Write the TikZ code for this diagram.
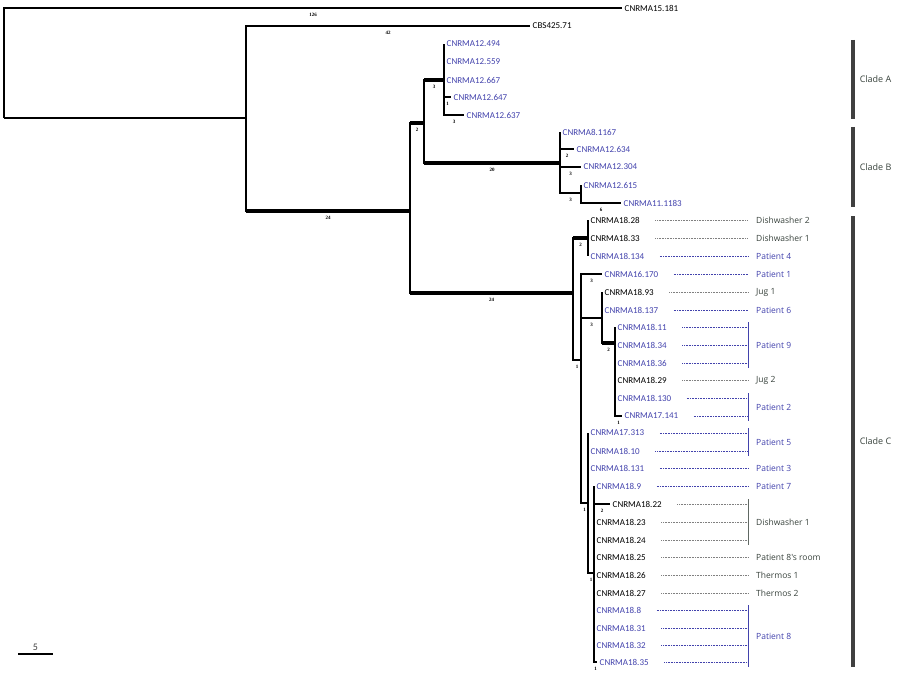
\documentclass[tikz,border=0pt]{standalone}
\usepackage{fontspec}
\setmainfont{Carlito}
\newfontfamily\tagfont{Open Sans}
\newfontfamily\numfont{Liberation Serif}
\usetikzlibrary{calc}
\definecolor{isoblue}{RGB}{66,66,172}
\definecolor{envgray}{RGB}{56,66,60}
\tikzstyle{branch}=[line width=1.5pt,black]
\tikzstyle{heavy}=[line width=4.5pt,black]
\tikzstyle{leaf}=[anchor=west,inner xsep=2.5pt,inner ysep=0pt,text depth=0pt,font=\fontsize{9}{10}\selectfont]
\tikzstyle{pat}=[leaf,text=isoblue]
\tikzstyle{env}=[leaf,text=black]
\tikzstyle{len}=[below=3pt,inner sep=1pt,pos=0.75,font=\numfont\bfseries\fontsize{5}{5}\selectfont]
\tikzstyle{patdots}=[isoblue,line width=0.6pt,dash pattern=on 0.8pt off 0.8pt]
\tikzstyle{envdots}=[gray,line width=0.6pt,dash pattern=on 0.8pt off 0.8pt]
\tikzstyle{patbrk}=[isoblue,line width=0.9pt]
\tikzstyle{envbrk}=[envgray!80,line width=0.9pt]
\tikzstyle{tag}=[anchor=west,inner sep=0pt,font=\tagfont\fontsize{8.5}{10}\selectfont]
\tikzstyle{pattag}=[tag,text=isoblue]
\tikzstyle{envtag}=[tag,text=envgray]
\tikzstyle{cladebar}=[line width=3.5pt,black!75]
\tikzstyle{clade}=[anchor=west,xshift=5pt,inner sep=0pt,text=envgray,font=\tagfont\fontsize{9}{10}\selectfont]

\begin{document}
\begin{tikzpicture}[x=1pt,y=-1pt]
  \useasboundingbox (0,0) rectangle (900,674);
  % inner nodes of the tree
  \coordinate (root) at (4,118);
  \coordinate (nOut) at (246,118);
  \coordinate (nIn)  at (410,211);
  \coordinate (nAB)  at (424,123);
  \coordinate (nA)   at (444,80);
  \coordinate (nB)   at (560,163);
  \coordinate (nB2)  at (581,193);
  \coordinate (nC)   at (573,293);
  \coordinate (nC1)  at (588,238);
  \coordinate (nC2)  at (581,360);
  \coordinate (nC3)  at (602,318);
  \coordinate (nC5)  at (615,343);
  \coordinate (nC4)  at (588,503);
  \coordinate (nC6)  at (594,573);
  \coordinate (tagx) at (748,0);
  \coordinate (tagtx) at (756,0);

  % isolates
  \node [env] (s15181)  at (622,8)   {CNRMA15.181};
  \node [env] (c42571)  at (530,26)  {CBS425.71};
  \node [pat] (s12494)  at (444,44)  {CNRMA12.494};
  \node [pat] (s12559)  at (444,62)  {CNRMA12.559};
  \node [pat] (s12667)  at (444,80)  {CNRMA12.667};
  \node [pat] (s12647)  at (451,97)  {CNRMA12.647};
  \node [pat] (s12637)  at (464,115) {CNRMA12.637};
  \node [pat] (s81167)  at (560,132) {CNRMA8.1167};
  \node [pat] (s12634)  at (574,149) {CNRMA12.634};
  \node [pat] (s12304)  at (581,167) {CNRMA12.304};
  \node [pat] (s12615)  at (581,185) {CNRMA12.615};
  \node [pat] (s111183) at (621,203) {CNRMA11.1183};
  \node [env] (s1828)   at (588,220) {CNRMA18.28};
  \node [env] (s1833)   at (588,238) {CNRMA18.33};
  \node [pat] (s18134)  at (588,256) {CNRMA18.134};
  \node [pat] (s16170)  at (602,274) {CNRMA16.170};
  \node [env] (s1893)   at (602,292) {CNRMA18.93};
  \node [pat] (s18137)  at (602,310) {CNRMA18.137};
  \node [pat] (s1811)   at (615,327) {CNRMA18.11};
  \node [pat] (s1834)   at (615,345) {CNRMA18.34};
  \node [pat] (s1836)   at (615,363) {CNRMA18.36};
  \node [env] (s1829)   at (615,380) {CNRMA18.29};
  \node [pat] (s18130)  at (615,398) {CNRMA18.130};
  \node [pat] (s17141)  at (622,416) {CNRMA17.141};
  \node [pat] (s17313)  at (588,433) {CNRMA17.313};
  \node [pat] (s1810)   at (588,451) {CNRMA18.10};
  \node [pat] (s18131)  at (588,468) {CNRMA18.131};
  \node [pat] (s189)    at (594,486) {CNRMA18.9};
  \node [env] (s1822)   at (610,504) {CNRMA18.22};
  \node [env] (s1823)   at (594,522) {CNRMA18.23};
  \node [env] (s1824)   at (594,540) {CNRMA18.24};
  \node [env] (s1825)   at (594,557) {CNRMA18.25};
  \node [env] (s1826)   at (594,575) {CNRMA18.26};
  \node [env] (s1827)   at (594,593) {CNRMA18.27};
  \node [pat] (s188)    at (594,610) {CNRMA18.8};
  \node [pat] (s1831)   at (594,628) {CNRMA18.31};
  \node [pat] (s1832)   at (594,645) {CNRMA18.32};
  \node [pat] (s1835)   at (597,662) {CNRMA18.35};

  % heavy branches
  \draw [heavy] (nOut |- nIn) -- (nIn);
  \draw [heavy] (nIn |- nAB) -- (nAB);
  \draw [heavy] (nIn |- nC) -- (nC);
  \draw [heavy] (nAB |- nA) -- (nA);
  \draw [heavy] (nAB |- nB) -- (nB);
  \draw [heavy] (nC |- nC1) -- (nC1);
  \draw [heavy] (nC3 |- nC5) -- (nC5);

  % branches
  \draw [branch] (root) |- node [len] {126} (s15181.west);
  \draw [branch] (root) |- (nOut);
  \draw [branch] (nOut) |- node [len] {42} (c42571.west);
  \draw [branch] (nOut) |- node [len] {24} (nIn);
  \draw [branch] (nIn) |- node [len] {2} (nAB);
  \draw [branch] (nIn) |- node [len] {24} (nC);
  \draw [branch] (nAB) |- node [len] {3} (nA);
  \draw [branch] (nAB) |- node [len] {20} (nB);
  \foreach \s in {s12494,s12559,s12667}
    \draw [branch] (nA) |- (\s.west);
  \draw [branch] (nA) |- node [len] {1} (s12647.west);
  \draw [branch] (nA) |- node [len] {3} (s12637.west);
  \draw [branch] (nB) |- (s81167.west);
  \draw [branch] (nB) |- node [len] {2} (s12634.west);
  \draw [branch] (nB) |- node [len] {3} (s12304.west);
  \draw [branch] (nB) |- node [len] {3} (nB2);
  \draw [branch] (nB2) |- (s12615.west);
  \draw [branch] (nB2) |- node [len] {6} (s111183.west);
  \draw [branch] (nC) |- node [len] {2} (nC1);
  \draw [branch] (nC) |- node [len] {1} (nC2);
  \foreach \s in {s1828,s1833,s18134}
    \draw [branch] (nC1) |- (\s.west);
  \draw [branch] (nC2) |- node [len] {3} (s16170.west);
  \draw [branch] (nC2) |- node [len] {3} (nC3);
  \draw [branch] (nC2) |- node [len] {1} (nC4);
  \foreach \s in {s1893,s18137}
    \draw [branch] (nC3) |- (\s.west);
  \draw [branch] (nC3) |- node [len] {2} (nC5);
  \foreach \s in {s1811,s1834,s1836,s1829,s18130}
    \draw [branch] (nC5) |- (\s.west);
  \draw [branch] (nC5) |- node [len] {1} (s17141.west);
  \foreach \s in {s17313,s1810,s18131}
    \draw [branch] (nC4) |- (\s.west);
  \draw [branch] (nC4) |- node [len] {1} (nC6);
  \foreach \s in {s189,s1823,s1824,s1825,s1826,s1827,s188,s1831,s1832}
    \draw [branch] (nC6) |- (\s.west);
  \draw [branch] (nC6) |- node [len] {2} (s1822.west);
  \draw [branch] (nC6) |- node [len] {1} (s1835.west);

  % sources of the clade C isolates
  \foreach \s in {s1828,s1833,s1893,s1829,s1822,s1823,s1824,s1825,s1826,s1827}
    \draw [envdots] ([xshift=13pt]\s.east) -- (\s.east -| tagx);
  \foreach \s in {s18134,s16170,s18137,s1811,s1834,s1836,s18130,s17141,s17313,s1810,s18131,s189,s188,s1831,s1832,s1835}
    \draw [patdots] ([xshift=13pt]\s.east) -- (\s.east -| tagx);
  \draw [patbrk] ([yshift=5pt]s1811 -| tagx) -- ([yshift=-5pt]s1836 -| tagx);
  \draw [patbrk] ([yshift=5pt]s18130 -| tagx) -- ([yshift=-5pt]s17141 -| tagx);
  \draw [patbrk] ([yshift=5pt]s17313 -| tagx) -- ([yshift=-5pt]s1810 -| tagx);
  \draw [envbrk] ([yshift=5pt]s1822 -| tagx) -- ([yshift=-5pt]s1824 -| tagx);
  \draw [patbrk] ([yshift=5pt]s188 -| tagx) -- ([yshift=-5pt]s1835 -| tagx);
  \node [envtag] (tDw2) at (s1828 -| tagtx) {Dishwasher 2};
  \node [envtag] (tDw1) at (s1833 -| tagtx) {Dishwasher 1};
  \node [pattag] (tP4) at (s18134 -| tagtx) {Patient 4};
  \node [pattag] (tP1) at (s16170 -| tagtx) {Patient 1};
  \node [envtag] (tJ1) at (s1893 -| tagtx) {Jug 1};
  \node [pattag] (tP6) at (s18137 -| tagtx) {Patient 6};
  \node [pattag] (tP9) at (s1834 -| tagtx) {Patient 9};
  \node [envtag] (tJ2) at (s1829 -| tagtx) {Jug 2};
  \node [pattag] (tP2) at ($(s18130 -| tagtx)!0.5!(s17141 -| tagtx)$) {Patient 2};
  \node [pattag] (tP5) at ($(s17313 -| tagtx)!0.5!(s1810 -| tagtx)$) {Patient 5};
  \node [pattag] (tP3) at (s18131 -| tagtx) {Patient 3};
  \node [pattag] (tP7) at (s189 -| tagtx) {Patient 7};
  \node [envtag] (tDw1b) at (s1823 -| tagtx) {Dishwasher 1};
  \node [envtag] (tRoom) at (s1825 -| tagtx) {Patient 8's room};
  \node [envtag] (tT1) at (s1826 -| tagtx) {Thermos 1};
  \node [envtag] (tT2) at (s1827 -| tagtx) {Thermos 2};
  \node [pattag] (tP8) at ($(s188 -| tagtx)!0.5!(s1835 -| tagtx)$) {Patient 8};

  % clades
  \draw [cladebar] (853,40) -- node [clade] (cladeA) {Clade A} (853,119);
  \draw [cladebar] (853,127) -- node [clade] (cladeB) {Clade B} (853,207);
  \draw [cladebar] (853,216) -- node [clade] (cladeC) {Clade C} (853,667);

  % scale bar
  \draw [line width=1.2pt] (18,654) coordinate (sb0) -- node [above=2.5pt,inner sep=0pt,text=black!75,font=\fontsize{10}{10}\selectfont] (sbl) {5} (53,654) coordinate (sb1);
\end{tikzpicture}
\end{document}
